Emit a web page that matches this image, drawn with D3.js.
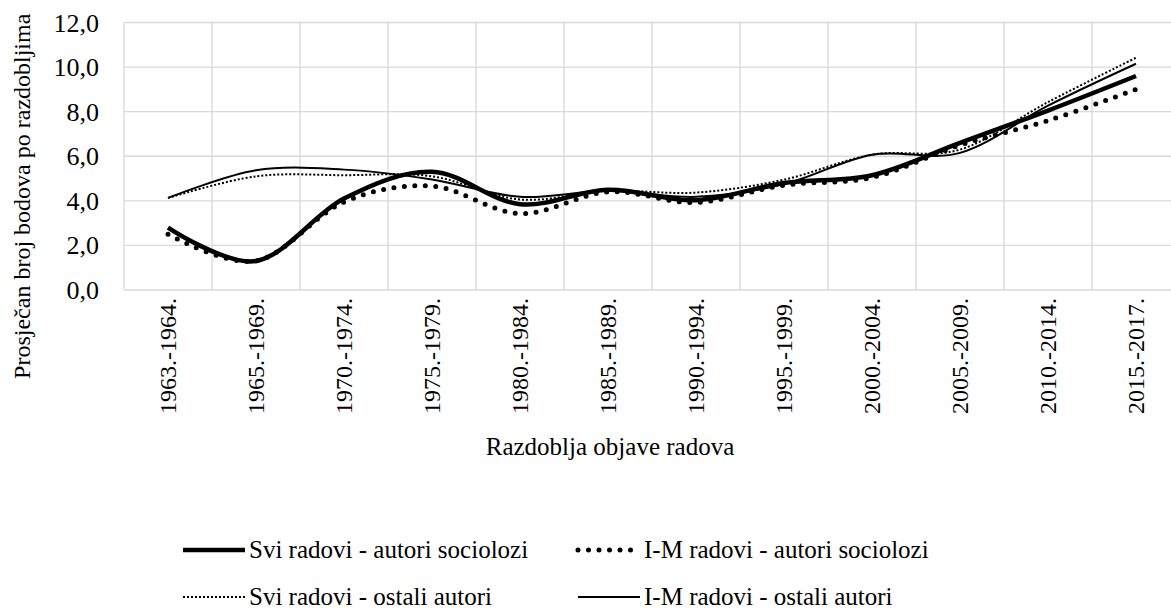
<!DOCTYPE html>
<html><head><meta charset="utf-8"><script src="https://cdn.jsdelivr.net/npm/d3@7"></script></head>
<body style="margin:0">
<svg width="1171" height="611"></svg>
<script>
const FONT = '"Liberation Serif"';

const categories = ['1963.-1964.', '1965.-1969.', '1970.-1974.', '1975.-1979.', '1980.-1984.', '1985.-1989.',
  '1990.-1994.', '1995.-1999.', '2000.-2004.', '2005.-2009.', '2010.-2014.', '2015.-2017.'];
const sviSociolozi = [2.8, 1.3, 4.1, 5.3, 3.85, 4.5, 4.03, 4.8, 5.15, 6.6, 8.05, 9.6];
const imSociolozi = [2.5, 1.3, 3.95, 4.66, 3.43, 4.4, 3.93, 4.7, 5.05, 6.5, 7.6, 9.0];
const sviOstali = [4.13, 5.1, 5.15, 5.1, 4.06, 4.45, 4.37, 4.95, 6.07, 6.3, 8.43, 10.42];
const imOstali = [4.13, 5.37, 5.4, 4.96, 4.18, 4.45, 4.18, 4.75, 6.07, 6.15, 8.27, 10.15];
const yTicks = [0, 2, 4, 6, 8, 10, 12];
const legendNames = ['Svi radovi - autori sociolozi', 'I-M radovi - autori sociolozi',
  'Svi radovi - ostali autori', 'I-M radovi - ostali autori'];

const series = [
  { name: legendNames[0], values: sviSociolozi, width: 4.5, dash: null, cap: 'butt' },
  { name: legendNames[1], values: imSociolozi, width: 5, dash: '0 10.5', cap: 'round' },
  { name: legendNames[2], values: sviOstali, width: 2, dash: '2 2', cap: 'butt' },
  { name: legendNames[3], values: imOstali, width: 2, dash: null, cap: 'butt' }
];

const plot = { left: 124, top: 22.5, bottom: 290 };
const band = 88;

const svg = d3.select('svg');

const x = d3.scaleBand().domain(categories).range([plot.left, plot.left + band * categories.length]);
const y = d3.scaleLinear().domain([0, 12]).range([plot.bottom, plot.top]);

// grid
svg.selectAll('.hgrid').data(yTicks).enter().append('line').attr('class', 'hgrid')
  .attr('x1', plot.left).attr('x2', x.range()[1])
  .attr('y1', d => y(d)).attr('y2', d => y(d))
  .attr('stroke', '#d9d9d9').attr('stroke-width', 1.3);
svg.selectAll('.vgrid').data(categories).enter().append('line').attr('class', 'vgrid')
  .attr('x1', d => x(d)).attr('x2', d => x(d))
  .attr('y1', plot.top).attr('y2', plot.bottom)
  .attr('stroke', '#d9d9d9').attr('stroke-width', 1.3);

// y tick labels
svg.selectAll('.ytick').data(yTicks).enter().append('text').attr('class', 'ytick')
  .attr('font-family', FONT).attr('font-size', 26)
  .attr('x', 99).attr('y', d => y(d) + 9)
  .attr('text-anchor', 'end')
  .text(d => d.toFixed(1).replace('.', ','));

// x tick labels
svg.selectAll('.xtick').data(categories).enter().append('text').attr('class', 'xtick')
  .attr('font-family', FONT).attr('font-size', 24)
  .attr('transform', d => 'translate(' + (x(d) + band / 2 + 8) + ',' + 298 + ') rotate(-90)')
  .attr('text-anchor', 'end')
  .text(d => d);

// axis titles
svg.append('text')
  .attr('font-family', FONT).attr('font-size', 24)
  .attr('transform', 'translate(30,' + ((plot.top + plot.bottom) / 2 + 40) + ') rotate(-90)')
  .attr('text-anchor', 'middle')
  .text('Prosječan broj bodova po razdobljima');
svg.append('text')
  .attr('font-family', FONT).attr('font-size', 25)
  .attr('x', 610).attr('y', 455)
  .attr('text-anchor', 'middle')
  .text('Razdoblja objave radova');

// lines
const line = d3.line()
  .x((d, i) => x(categories[i]) + band / 2)
  .y(d => y(d))
  .curve(d3.curveCatmullRom.alpha(0));

svg.selectAll('.series').data(series).enter().append('path').attr('class', 'series')
  .attr('d', d => line(d.values))
  .attr('fill', 'none').attr('stroke', '#000')
  .attr('stroke-width', d => d.width)
  .attr('stroke-dasharray', d => d.dash)
  .attr('stroke-linecap', d => d.cap);

// legend
const legendX = [183, 578, 183, 578];
const legendY = [550, 550, 597, 597];
svg.selectAll('.legline').data(series).enter().append('line').attr('class', 'legline')
  .attr('x1', (d, i) => legendX[i]).attr('x2', (d, i) => legendX[i] + 62)
  .attr('y1', (d, i) => legendY[i]).attr('y2', (d, i) => legendY[i])
  .attr('stroke', '#000')
  .attr('stroke-width', d => d.width)
  .attr('stroke-dasharray', d => d.dash)
  .attr('stroke-linecap', d => d.cap);
svg.selectAll('.legtext').data(series).enter().append('text').attr('class', 'legtext')
  .attr('font-family', FONT).attr('font-size', 25)
  .attr('x', (d, i) => legendX[i] + 66).attr('y', (d, i) => legendY[i] + 8)
  .text(d => d.name);
</script>
</body></html>
